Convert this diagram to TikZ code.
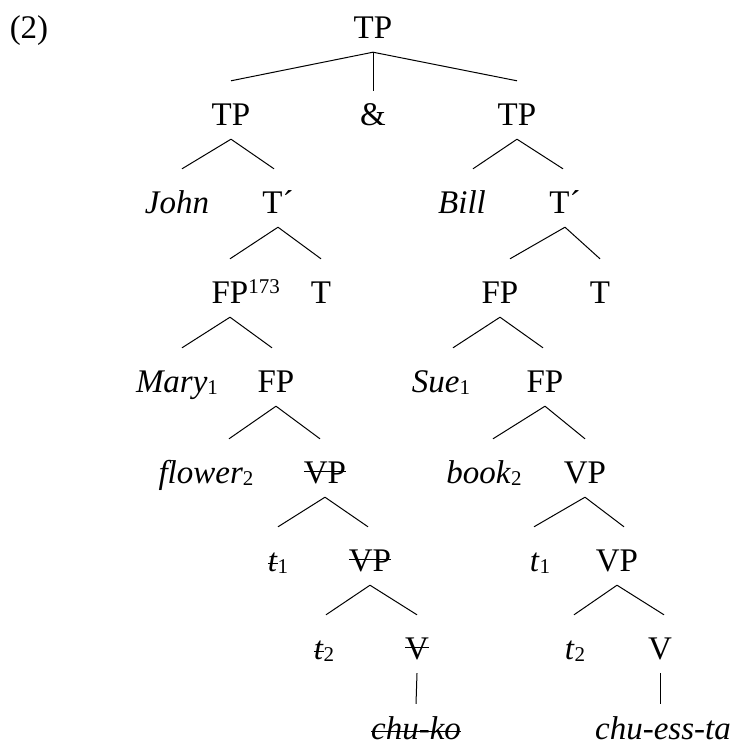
\documentclass[tikz,border=0pt]{standalone}
\usepackage{fontspec}
\setmainfont{Liberation Serif}

\newcommand{\struck}[2][0.33em]{\setbox0\hbox{#2}\rlap{\rule[#1]{\wd0}{1.4pt}}\box0}
\newcommand{\nsup}[1]{\raisebox{0.3em}{\fontsize{21}{21}\selectfont #1}}
\newcommand{\nsub}[1]{\raisebox{-0.09em}{\fontsize{21}{21}\selectfont\upshape #1}}

\begin{document}
\begin{tikzpicture}[x=1pt,y=-1pt,
  lab/.style={anchor=base,inner sep=0pt,text height=44pt,text depth=14pt,font=\fontsize{33}{38}\selectfont},
  leaf/.style={lab,text depth=3pt},
  edge/.style={line width=1pt}]
  \useasboundingbox (0,0) rectangle (735,745);
  \node[lab] (ex) at (29,38) {(2)};
  \node[lab] (tp0) at (373,38) {TP};
  \node[lab] (tpl) at (231,125) {TP}; \node[lab] (amp) at (373,125) {\&}; \node[lab] (tpr) at (517,125) {TP};
  \node[lab] (john) at (177,213) {\textit{John}}; \node[lab] (tbl) at (278,213) {T´};
  \node[lab] (bill) at (462,213) {\textit{Bill}}; \node[lab] (tbr) at (565,213) {T´};
  \node[lab] (fpl) at (230,303) {FP\rlap{\nsup{173}}}; \node[lab] (tl) at (321,303) {T};
  \node[lab] (fpr) at (500,303) {FP}; \node[lab] (tr) at (600,303) {T};
  \node[lab] (mary) at (177,392) {\textit{Mary}\nsub{1}}; \node[lab] (fpl2) at (276,392) {FP};
  \node[lab] (sue) at (441,392) {\textit{Sue}\nsub{1}}; \node[lab] (fpr2) at (545,392) {FP};
  \node[lab] (flower) at (206,483) {\textit{flower}\nsub{2}}; \node[lab] (vpl) at (325,483) {\struck{VP}};
  \node[lab] (book) at (484,483) {\textit{book}\nsub{2}}; \node[lab] (vpr) at (585,483) {VP};
  \node[lab] (t1l) at (278,571) {\struck[0.2em]{\textit{t}}\nsub{1}}; \node[lab] (vpl2) at (370,571) {\struck{VP}};
  \node[lab] (t1r) at (540,571) {\textit{t}\nsub{1}}; \node[lab] (vpr2) at (617,571) {VP};
  \node[lab] (t2l) at (324,659) {\struck[0.2em]{\textit{t}}\nsub{2}}; \node[lab] (vl) at (417,659) {\struck{V}};
  \node[lab] (t2r) at (575,659) {\textit{t}\nsub{2}}; \node[lab] (vr) at (660,659) {V};
  \node[leaf] (chuko) at (416,739) {\struck[0.2em]{\textit{chu-ko}}};
  \node[leaf] (chuessta) at (663,739) {\textit{chu-ess-ta}};
  \foreach \a/\b/\s in {tp0/tpl/0,tp0/tpr/0,tpl/john/5,tpl/tbl/-4,tpr/bill/11,tpr/tbr/-2,
      tbl/fpl/0,tbl/tl/0,tbr/fpr/10,tbr/tr/0,fpl/mary/5,fpl/fpl2/-4,fpr/sue/12,fpr/fpr2/-2,
      fpl2/flower/23,fpl2/vpl/-5,fpr2/book/9,fpr2/vpr/0,vpl/t1l/0,vpl/vpl2/-2,vpr/t1r/-6,vpr/vpr2/7,
      vpl2/t2l/2,vpl2/vl/0,vpr2/t2r/-1,vpr2/vr/4}
    \draw[edge] (\a.south) -- ([xshift=\s pt]\b.north);
  \draw[edge] (tp0.south) -- ([yshift=-10pt]amp.north);
  \draw[edge] (vl.south) -- ([yshift=-9pt]chuko.north);
  \draw[edge] (vr.south) -- ([yshift=-9pt,xshift=-3pt]chuessta.north);
\end{tikzpicture}
\end{document}
